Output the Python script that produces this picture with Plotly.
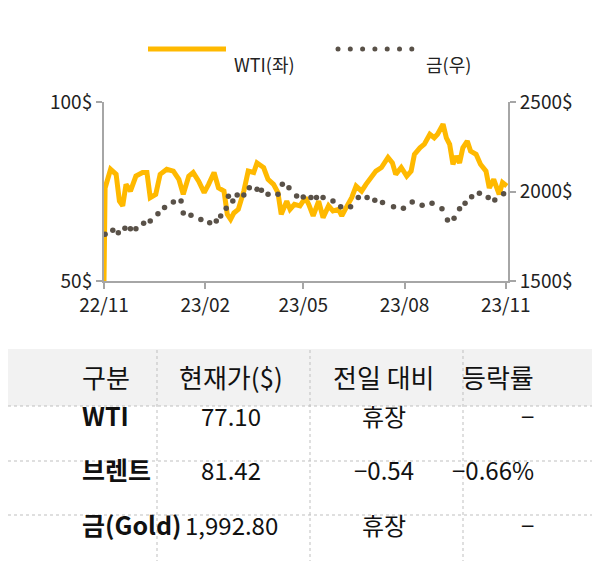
import plotly.graph_objects as go
import pandas as pd

start = pd.Timestamp("2022-11-01")
wti_days = [0,1,6,11,14,17,20,24,29,35,39,42,47,51,57,63,68,72,77,81,86,91,95,100,104,109,112,115,118,122,127,131,136,139,145,149,154,158,161,166,169,173,178,183,186,190,195,199,204,208,213,216,220,225,229,234,238,243,247,252,258,262,265,270,275,279,282,287,291,296,300,303,308,311,314,317,320,323,326,330,333,338,342,347,350,354,359,362,366]
wti_vals = [50,76,81.2,79.8,72.3,71,77,75.1,79.3,80.3,80.3,73.3,74.2,79.8,81.2,80.7,78.4,74.2,79.3,80.3,77.9,74.7,77,80.3,76,75.1,68.6,67.2,69,70,75.1,80.7,80.3,83,81.7,78.4,77,74.7,68.6,72.3,70,71.4,71,73.3,71.4,68.2,72.3,67.7,71,69.6,70,68.2,70.5,73.3,76.5,75.1,77,79.3,80.7,81.7,84.5,83,79.8,81.7,79.3,80.7,85.4,87.2,88.2,91,90,91,93.8,90,88.2,82.6,84.9,83,87.2,89.1,86.3,85.4,82.6,80.7,76,78.4,74.2,77.5,76.5]
gold_days = [1,8,13,19,24,29,36,42,49,55,63,70,72,79,88,96,102,106,111,113,117,121,127,132,139,143,149,158,162,168,175,181,188,193,199,208,215,224,231,239,246,253,263,272,280,289,298,307,312,318,323,328,334,341,349,355,363]
gold_vals = [1761,1783,1770,1794,1792,1792,1822,1835,1876,1910,1941,1947,1880,1867,1843,1826,1835,1863,1906,1973,1947,1980,1980,2021,2012,2007,1984,1984,2040,2021,1975,1969,1966,1966,1966,1947,1915,1915,1966,1966,1951,1938,1915,1906,1941,1923,1934,1904,1841,1850,1904,1934,1971,1990,1966,1953,1988]
x_ticks = ["2022-11-01","2023-02-01","2023-05-01","2023-08-01","2023-11-01"]
x_labels = ["22/11","23/02","23/05","23/08","23/11"]

headers = ["구분","현재가($)","전일 대비","등락률"]
names = ["WTI","브렌트","금(Gold)"]
prices = ["77.10","81.42","1,992.80"]
changes = ["휴장","−0.54","휴장"]
rates = ["−","−0.66%","−"]

W, H = 600, 561
FONT = "Noto Sans CJK KR"
wti_x = [start + pd.Timedelta(days=d) for d in wti_days]
gold_x = [start + pd.Timedelta(days=d) for d in gold_days]

fig = go.Figure()
fig.add_trace(go.Scatter(x=wti_x, y=wti_vals, mode="lines",
                         line=dict(color="#FFB900", width=5), showlegend=False))
fig.add_trace(go.Scatter(x=gold_x, y=gold_vals, mode="markers", yaxis="y2",
                         marker=dict(color="#595148", size=5.5), showlegend=False))

def px(x): return x / W
def py(y): return 1 - y / H

axcol = "#a6a6a6"
tf = dict(family=FONT, size=19, color="#222")
common = dict(showgrid=False, zeroline=False, showline=True, linecolor=axcol,
              linewidth=2, ticks="outside", tickcolor=axcol, ticklen=6,
              tickwidth=2, tickfont=tf, automargin=False)
fig.update_layout(
    width=W, height=H, margin=dict(l=0, r=0, t=0, b=0, autoexpand=False),
    paper_bgcolor="white", plot_bgcolor="white",
    xaxis=dict(domain=[px(96), px(500)], range=["2022-11-01", "2023-11-03"],
               tickvals=x_ticks, ticktext=x_labels, **common),
    yaxis=dict(domain=[py(273), py(94)], range=[50, 100], tickvals=[50, 100],
               ticktext=["50$", "100$"], **common),
    yaxis2=dict(overlaying="y", side="right", range=[1500, 2500],
                tickvals=[1500, 2000, 2500], ticktext=["1500$", "2000$", "2500$"], **common),
)

shapes = []
ann = []
# legend
shapes.append(dict(type="line", xref="paper", yref="paper", x0=px(140), x1=px(218),
                   y0=py(41), y1=py(41), line=dict(color="#FFB900", width=5)))
ann.append(dict(x=px(224), y=py(41), xref="paper", yref="paper", text="WTI(좌)",
                showarrow=False, xanchor="left", font=dict(family=FONT, size=18, color="#222")))
for i in range(7):
    cx = 330 + i * 12.3
    shapes.append(dict(type="circle", xref="paper", yref="paper",
                       x0=px(cx - 2.5), x1=px(cx + 2.5), y0=py(41 + 2.5), y1=py(41 - 2.5),
                       fillcolor="#595148", line=dict(width=0)))
ann.append(dict(x=px(416), y=py(41), xref="paper", yref="paper", text="금(우)",
                showarrow=False, xanchor="left", font=dict(family=FONT, size=18, color="#222")))

# table
shapes.append(dict(type="rect", xref="paper", yref="paper", x0=0, x1=1,
                   y0=py(398), y1=py(341), fillcolor="#f2f2f2", line=dict(width=0), layer="below"))
for yy in [398, 453, 507]:
    shapes.append(dict(type="line", xref="paper", yref="paper", x0=0, x1=1,
                       y0=py(yy), y1=py(yy), line=dict(color="#bfbfbf", width=1, dash="dot")))
for xx in [149, 302, 455]:
    shapes.append(dict(type="line", xref="paper", yref="paper", x0=px(xx), x1=px(xx),
                       y0=py(561), y1=py(341), line=dict(color="#bfbfbf", width=1, dash="dot")))
col_c = [72, 223, 376, 528]
row_c = [368, 427, 481, 536]
for j, h in enumerate(headers):
    ann.append(dict(x=px(col_c[j]), y=py(row_c[0]), xref="paper", yref="paper", text=h,
                    showarrow=False, font=dict(family=FONT, size=26, color="#111")))
for i in range(3):
    vals = [f"<b>{names[i]}</b>", prices[i], changes[i], rates[i]]
    for j, v in enumerate(vals):
        ann.append(dict(x=px(col_c[j]), y=py(row_c[i + 1]), xref="paper", yref="paper",
                        text=v, showarrow=False,
                        font=dict(family=FONT, size=25 if j == 0 else 24, color="#111")))
fig.update_layout(shapes=shapes, annotations=ann)
fig.write_html("out.html")
